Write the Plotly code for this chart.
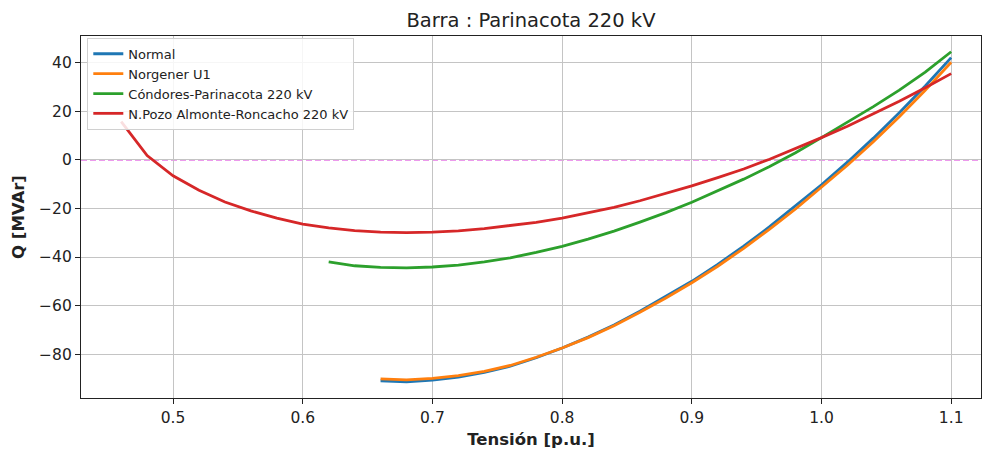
import plotly.graph_objects as go

# Voltage grid (p.u.)
v_normal = [0.66, 0.68, 0.70, 0.72, 0.74, 0.76, 0.78, 0.80, 0.82, 0.84, 0.86, 0.88,
            0.90, 0.92, 0.94, 0.96, 0.98, 1.00, 1.02, 1.04, 1.06, 1.08, 1.10]
q_normal = [-91.0, -91.4, -90.7, -89.5, -87.5, -85.0, -81.5, -77.5, -73.0, -68.0, -62.3, -56.3,
            -50.0, -43.0, -35.5, -27.5, -19.0, -10.2, -0.9, 9.0, 19.5, 30.5, 42.2]

v_norgener = v_normal
q_norgener = [-90.2, -90.6, -90.0, -88.9, -87.1, -84.7, -81.3, -77.5, -73.2, -68.3, -62.8, -56.9,
              -50.6, -43.8, -36.4, -28.5, -20.2, -11.4, -2.2, 7.5, 17.8, 28.7, 40.3]

v_condores = [0.62, 0.64, 0.66, 0.68, 0.70, 0.72, 0.74, 0.76, 0.78, 0.80, 0.82, 0.84, 0.86,
              0.88, 0.90, 0.92, 0.94, 0.96, 0.98, 1.00, 1.02, 1.04, 1.06, 1.08, 1.10]
q_condores = [-42.0, -43.6, -44.3, -44.5, -44.1, -43.3, -42.0, -40.3, -38.1, -35.6, -32.6, -29.3, -25.6,
              -21.7, -17.4, -12.8, -7.9, -2.7, 3.0, 9.2, 15.5, 22.0, 28.8, 36.2, 44.6]

v_pozo = [0.46, 0.48, 0.50, 0.52, 0.54, 0.56, 0.58, 0.60, 0.62, 0.64, 0.66, 0.68, 0.70, 0.72,
          0.74, 0.76, 0.78, 0.80, 0.82, 0.84, 0.86, 0.88, 0.90, 0.92, 0.94, 0.96, 0.98, 1.00,
          1.02, 1.04, 1.06, 1.08, 1.10]
q_pozo = [15.8, 1.8, -6.5, -12.5, -17.3, -21.0, -24.0, -26.4, -28.0, -29.1, -29.7, -29.9, -29.7, -29.2,
          -28.3, -27.1, -25.7, -24.0, -21.9, -19.5, -16.8, -13.9, -10.7, -7.3, -3.7, 0.3, 4.6, 9.2,
          13.9, 19.0, 24.2, 29.8, 35.6]

series_names = ["Normal", "Norgener U1", "Cóndores-Parinacota 220 kV", "N.Pozo Almonte-Roncacho 220 kV"]
series_colors = ["#1f77b4", "#ff7f0e", "#2ca02c", "#d62728"]
x_ticks = [0.5, 0.6, 0.7, 0.8, 0.9, 1.0, 1.1]
y_ticks = [-80, -60, -40, -20, 0, 20, 40]

FONT = "DejaVu Sans"

fig = go.Figure()
fig.add_hline(y=0, line=dict(color="#e67ae6", width=1.6, dash="6px,3px"), layer="below")

data = [(v_normal, q_normal), (v_norgener, q_norgener), (v_condores, q_condores), (v_pozo, q_pozo)]
for (vx, qy), name, col in zip(data, series_names, series_colors):
    fig.add_trace(go.Scatter(x=vx, y=qy, mode="lines", name=name,
                             line=dict(color=col, width=2.8)))

axis_common = dict(showline=True, linecolor="#222", linewidth=1.2, mirror=True,
                   ticks="outside", ticklen=5, tickcolor="#222", tickwidth=1,
                   showgrid=True, gridcolor="#c4c4c4", gridwidth=1, zeroline=False,
                   tickfont=dict(family=FONT, size=15.5, color="#222"))

fig.update_layout(
    width=982, height=450,
    margin=dict(l=81, r=1, t=36, b=52),
    plot_bgcolor="white", paper_bgcolor="white",
    font=dict(family=FONT, color="#222"),
    title=dict(text="Barra : Parinacota 220 kV", x=0.5, xref="paper", xanchor="center",
               y=1 - 20/450, yanchor="middle", font=dict(family=FONT, size=19.5, color="#222")),
    xaxis=dict(range=[0.429, 1.123], tickvals=x_ticks, tickformat=".1f",
               title=dict(text="<b>Tensión [p.u.]</b>", font=dict(family=FONT, size=16.5), standoff=7),
               **axis_common),
    yaxis=dict(range=[-98.1, 51.1], tickvals=y_ticks,
               title=dict(text="<b>Q [MVAr]</b>", font=dict(family=FONT, size=16.5), standoff=10),
               **axis_common),
    legend=dict(x=0.007, y=0.995, xanchor="left", yanchor="top",
                bgcolor="rgba(255,255,255,0.85)", bordercolor="#d0d0d0", borderwidth=1,
                font=dict(family=FONT, size=13, color="#222"), tracegroupgap=0,
                itemwidth=30),
    showlegend=True,
)

fig.write_html("out.html")
